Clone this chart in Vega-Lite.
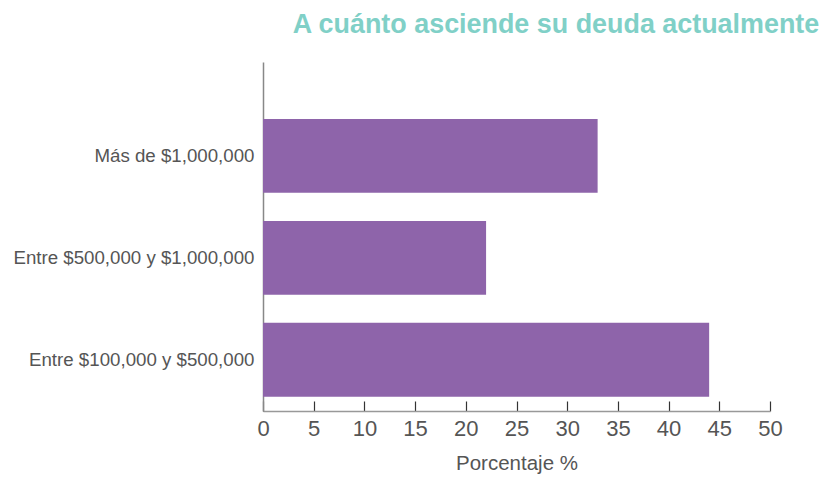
{
  "$schema": "https://vega.github.io/schema/vega-lite/v6.json",
  "width": 507,
  "height": 349,
  "autosize": {"type": "none"},
  "padding": {"left": 263, "top": 62, "right": 54, "bottom": 68},
  "background": "white",
  "title": {
    "text": "A cuánto asciende su deuda actualmente",
    "anchor": "end",
    "dx": 37,
    "offset": 2,
    "baseline": "alphabetic",
    "font": "Liberation Sans",
    "fontSize": 26.9,
    "fontWeight": "bold",
    "color": "#80d0c7"
  },
  "data": {
    "values": [
      {"categoria": "Más de $1,000,000", "porcentaje": 33},
      {"categoria": "Entre $500,000 y $1,000,000", "porcentaje": 22},
      {"categoria": "Entre $100,000 y $500,000", "porcentaje": 44}
    ]
  },
  "mark": {"type": "bar", "color": "#8e64aa"},
  "encoding": {
    "y": {
      "field": "categoria",
      "type": "nominal",
      "sort": null,
      "scale": {"paddingInner": 0.275, "paddingOuter": 0.349, "align": 0.8},
      "axis": {
        "title": null,
        "ticks": false,
        "domainColor": "#888888",
        "domainWidth": 1.5,
        "labelFont": "Liberation Sans",
        "labelFontSize": 18.7,
        "labelColor": "#555555",
        "labelPadding": 9,
        "labelLimit": 400
      }
    },
    "x": {
      "field": "porcentaje",
      "type": "quantitative",
      "scale": {"domain": [0, 50], "nice": false},
      "axis": {
        "title": "Porcentaje %",
        "values": [0, 5, 10, 15, 20, 25, 30, 35, 40, 45, 50],
        "grid": false,
        "tickSize": -10,
        "tickColor": "#333333",
        "tickWidth": 1.2,
        "domainColor": "#999999",
        "domainWidth": 1.5,
        "labelFont": "Liberation Sans",
        "labelFontSize": 22,
        "labelColor": "#555555",
        "labelPadding": 17,
        "labelFlush": false,
        "titleFont": "Liberation Sans",
        "titleFontSize": 20.5,
        "titleFontWeight": "normal",
        "titleColor": "#555555",
        "titlePadding": 14
      }
    }
  },
  "config": {"view": {"stroke": null}}
}
